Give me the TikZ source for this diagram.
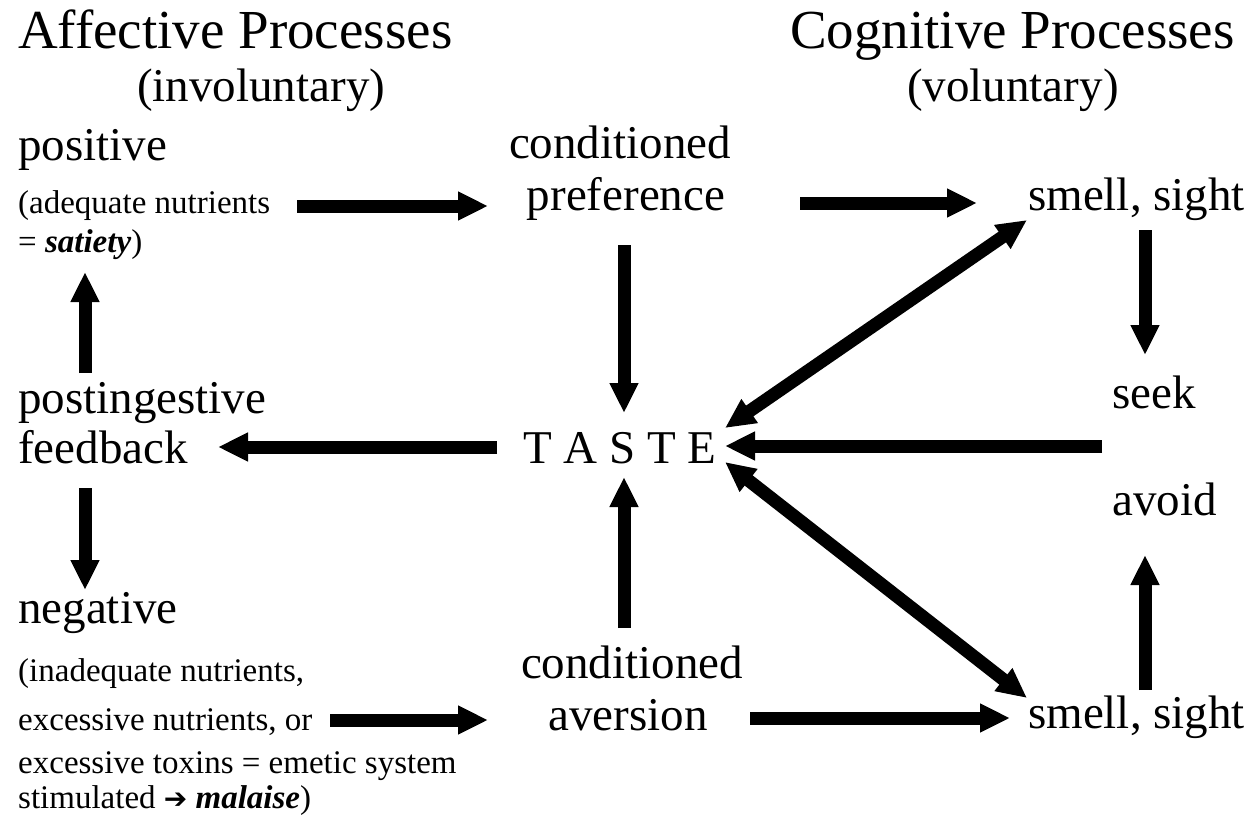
\documentclass[tikz,border=0pt]{standalone}
\usepackage{fontspec}
\setmainfont{Liberation Serif}
\newfontfamily\djv{DejaVu Sans}
\usetikzlibrary{arrows.meta}
\begin{document}
\begin{tikzpicture}[x=1pt,y=-1pt,
  big/.style={font=\fontsize{55}{60}\selectfont, inner sep=0pt, anchor=base west},
  lab/.style={font=\fontsize{47}{52}\selectfont, inner sep=0pt, anchor=base west},
  labc/.style={font=\fontsize{47}{52}\selectfont, inner sep=0pt, anchor=base},
  small/.style={font=\fontsize{33}{36}\selectfont, inner sep=0pt, anchor=base west},
  arr/.style={line width=13pt, -{Triangle[length=30pt,width=27pt]}},
  darr/.style={line width=13pt, {Triangle[length=30pt,width=27pt]}-{Triangle[length=30pt,width=27pt]}}]
\useasboundingbox (0,0) rectangle (1255,815);

% headers
\node[big] (aff) at (18,48) {Affective Processes};
\node[lab] (invol) at (137,101) {(involuntary)};
\node[big] (cog) at (790,48) {Cognitive Processes};
\node[lab] (vol) at (907,101) {(voluntary)};

% left column
\node[lab] (pos) at (18,160) {positive};
\node[small] (pos1) at (18,213) {(adequate nutrients};
\node[small] (pos2) at (18,252) {= \textbf{\textit{satiety}})};
\node[lab] (post1) at (18,413) {postingestive};
\node[lab] (post2) at (18,463) {feedback};
\node[lab] (neg) at (18,623) {negative};
\node[small] (neg1) at (18,681) {(inadequate nutrients,};
\node[small] (neg2) at (18,730) {excessive nutrients, or};
\node[small] (neg3) at (18,773) {excessive toxins = emetic system};
\node[small] (neg4) at (18,808) {stimulated {\djv\fontsize{28}{30}\selectfont ➔} \textbf{\textit{malaise}})};

% middle column
\node[labc] (cp1) at (620,158) {conditioned};
\node[labc] (cp2) at (626,210) {preference};
\node[lab] (taste) at (523,463) {T A S T E};
\node[labc] (ca1) at (632,678) {conditioned};
\node[labc] (ca2) at (628,730) {aversion};

% right column
\node[lab] (ss1) at (1028,210) {smell, sight};
\node[lab] (seek) at (1112,408) {seek};
\node[lab] (avoid) at (1112,515) {avoid};
\node[lab] (ss2) at (1028,728) {smell, sight};

% arrow end points
\coordinate (a1s) at (297,206); \coordinate (a1e) at (488,206);
\coordinate (a2s) at (800,203); \coordinate (a2e) at (977,203);
\coordinate (a3s) at (624,245); \coordinate (a3e) at (624,413);
\coordinate (a4s) at (1145,230); \coordinate (a4e) at (1145,355);
\coordinate (a5s) at (1102,446); \coordinate (a5e) at (725,446);
\coordinate (a6s) at (1027,220); \coordinate (a6e) at (725,428);
\coordinate (a7s) at (1027,698); \coordinate (a7e) at (725,462);
\coordinate (a8s) at (497,447); \coordinate (a8e) at (218,447);
\coordinate (a9s) at (85,373); \coordinate (a9e) at (85,272);
\coordinate (a10s) at (85,488); \coordinate (a10e) at (85,590);
\coordinate (a11s) at (330,720); \coordinate (a11e) at (488,720);
\coordinate (a12s) at (624,628); \coordinate (a12e) at (624,477);
\coordinate (a13s) at (750,718); \coordinate (a13e) at (1010,718);
\coordinate (a14s) at (1145,690); \coordinate (a14e) at (1145,555);

\draw[arr] (a1s) -- (a1e);
\draw[arr] (a2s) -- (a2e);
\draw[arr] (a3s) -- (a3e);
\draw[arr] (a4s) -- (a4e);
\draw[arr] (a5s) -- (a5e);
\draw[darr] (a6s) -- (a6e);
\draw[darr] (a7s) -- (a7e);
\draw[arr] (a8s) -- (a8e);
\draw[arr] (a9s) -- (a9e);
\draw[arr] (a10s) -- (a10e);
\draw[arr] (a11s) -- (a11e);
\draw[arr] (a12s) -- (a12e);
\draw[arr] (a13s) -- (a13e);
\draw[arr] (a14s) -- (a14e);
\end{tikzpicture}
\end{document}
